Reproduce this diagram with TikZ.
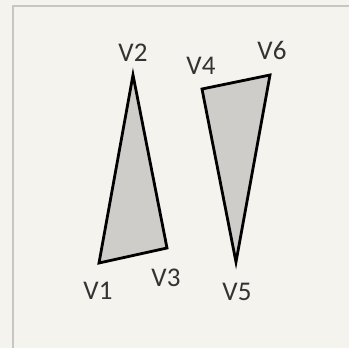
\documentclass[tikz,border=0pt]{standalone}
\usepackage{fontspec}
\setmainfont{Carlito}
\definecolor{paper}{HTML}{F5F3EE}
\definecolor{frame}{HTML}{C8C6C2}
\definecolor{tri}{HTML}{CFCDCA}
\begin{document}
\begin{tikzpicture}[x=1pt,y=-1pt,
  lbl/.style={font=\fontsize{27}{30}\selectfont, text=black!80, inner sep=0pt},
  triface/.style={fill=tri, draw=black, line width=2.8pt, line join=miter}]
\fill[paper] (0,0) rectangle (349,348);
\useasboundingbox (0,0) rectangle (349,348);
\draw[frame, line width=1.5pt] (13,350) -- (13,6) -- (351,6);
\coordinate (v1) at (99,263);
\coordinate (v2) at (133,75);
\coordinate (v3) at (167,248);
\coordinate (v4) at (202,89);
\coordinate (v5) at (236,262);
\coordinate (v6) at (270,75);
\draw[triface] (v1) -- (v2) -- (v3) -- cycle;
\draw[triface] (v4) -- (v6) -- (v5) -- cycle;
\node[lbl] (l1) at (98,291) {V1};
\node[lbl] (l2) at (133,53) {V2};
\node[lbl] (l3) at (166,278) {V3};
\node[lbl] (l4) at (201,66) {V4};
\node[lbl] (l5) at (237,292) {V5};
\node[lbl] (l6) at (272,50) {V6};
\end{tikzpicture}
\end{document}
